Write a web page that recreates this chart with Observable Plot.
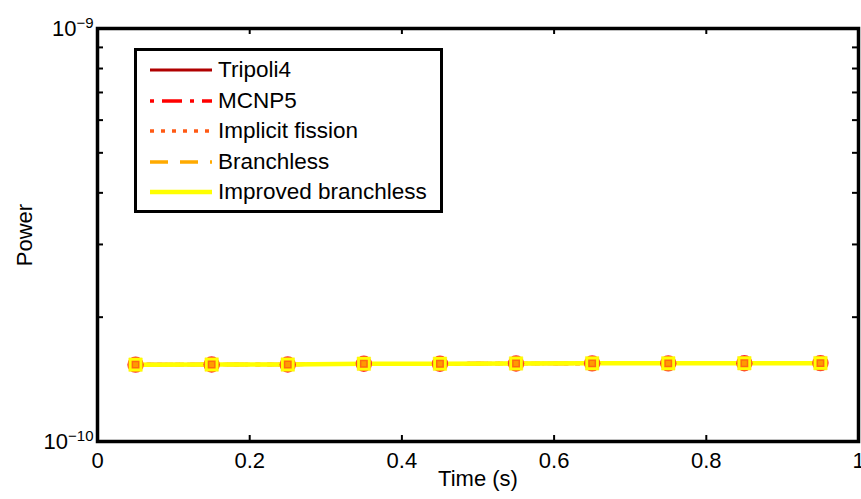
<!DOCTYPE html>
<html>
<head>
<meta charset="utf-8">
<script src="https://cdn.jsdelivr.net/npm/d3@7"></script>
<script src="https://cdn.jsdelivr.net/npm/@observablehq/plot@0.6"></script>
<style>
  html, body { margin: 0; padding: 0; background: #fff; }
  #wrap { position: relative; width: 861px; height: 499px; font-family: "Liberation Sans", Arial, sans-serif; }
  #legend { position: absolute; left: 134px; top: 48px; width: 303px; height: 159px; border: 3px solid #000; background: #fff; }
  #legend .row { position: absolute; left: 0; height: 30px; display: flex; align-items: center; }
  #legend svg { display: block; margin-left: 13px; }
  #legend span { margin-left: 6px; font-size: 22.5px; color: #000; white-space: nowrap; }
</style>
</head>
<body>
<div id="wrap"></div>
<script>
// Data
const time = [0.05, 0.15, 0.25, 0.35, 0.45, 0.55, 0.65, 0.75, 0.85, 0.95];
const tripoli4   = [1.535e-10, 1.536e-10, 1.536e-10, 1.543e-10, 1.543e-10, 1.545e-10, 1.546e-10, 1.546e-10, 1.547e-10, 1.548e-10];
const mcnp5      = [1.535e-10, 1.536e-10, 1.536e-10, 1.543e-10, 1.543e-10, 1.545e-10, 1.546e-10, 1.546e-10, 1.547e-10, 1.548e-10];
const implicitFission = [1.535e-10, 1.536e-10, 1.536e-10, 1.543e-10, 1.543e-10, 1.545e-10, 1.546e-10, 1.546e-10, 1.547e-10, 1.548e-10];
const branchless = [1.535e-10, 1.536e-10, 1.536e-10, 1.543e-10, 1.543e-10, 1.545e-10, 1.546e-10, 1.546e-10, 1.547e-10, 1.548e-10];
const improvedBranchless = [1.535e-10, 1.536e-10, 1.536e-10, 1.543e-10, 1.543e-10, 1.545e-10, 1.546e-10, 1.546e-10, 1.547e-10, 1.548e-10];

const xTicks = [0, 0.2, 0.4, 0.6, 0.8, 1];
const yMajorTicks = [1e-10, 1e-9];
const yMinorTicks = [2e-10, 3e-10, 4e-10, 5e-10, 6e-10, 7e-10, 8e-10, 9e-10];
const yTickExponents = ["\u221210", "\u22129"];

const seriesNames = ["Tripoli4", "MCNP5", "Implicit fission", "Branchless", "Improved branchless"];
const seriesValues = [tripoli4, mcnp5, implicitFission, branchless, improvedBranchless];
const seriesStyles = [
  {stroke: "#b00000", strokeWidth: 3, dash: null},
  {stroke: "#ff0000", strokeWidth: 3.5, dash: "4,8,20,8"},
  {stroke: "#ff5a14", strokeWidth: 3.5, dash: "4,7"},
  {stroke: "#ffaa00", strokeWidth: 3.5, dash: "18,12"},
  {stroke: "#ffff00", strokeWidth: 4.5, dash: null}
];

const table = (vals) => time.map((t, i) => ({t, v: vals[i]}));

const W = 861, H = 499, mL = 97, mR = 3, mT = 28, mB = 58;
const innerH = H - mT - mB, innerW = W - mL - mR;
const tickLen = 6;
const FS = 22;

const lineMarks = seriesValues.map((vals, i) => Plot.line(table(vals), {
  x: "t", y: "v",
  stroke: seriesStyles[i].stroke,
  strokeWidth: seriesStyles[i].strokeWidth,
  strokeDasharray: seriesStyles[i].dash
}));

const chart = Plot.plot({
  width: W, height: H,
  marginLeft: mL, marginRight: mR, marginTop: mT, marginBottom: mB,
  style: {fontFamily: "Liberation Sans, Arial, sans-serif", fontSize: FS + "px", color: "#000", background: "#fff", overflow: "visible"},
  x: {domain: [0, 1]},
  y: {type: "log", domain: [1e-10, 1e-9]},
  marks: [
    ...lineMarks,
    Plot.dot(table(mcnp5), {x: "t", y: "v", r: 8.2, fill: "#ff2a2a", stroke: null}),
    Plot.dot(table(improvedBranchless), {x: "t", y: "v", symbol: "square", r: 7.6, fill: "#ffff00", stroke: "#fff200", strokeWidth: 0.5}),
    Plot.dot(table(implicitFission), {x: "t", y: "v", symbol: "square", r: 3.6, fill: "#ff9a00", stroke: "#ff6a10", strokeWidth: 1.5}),
    Plot.tickX(xTicks, {x: d => d, insetTop: innerH - tickLen, stroke: "#000", strokeWidth: 2}),
    Plot.tickX(xTicks, {x: d => d, insetBottom: innerH - tickLen, stroke: "#000", strokeWidth: 2}),
    Plot.tickY(yMinorTicks, {y: d => d, insetRight: innerW - tickLen, stroke: "#000", strokeWidth: 2}),
    Plot.tickY(yMinorTicks, {y: d => d, insetLeft: innerW - tickLen, stroke: "#000", strokeWidth: 2}),
    Plot.axisX({ticks: xTicks, tickSize: 0, tickPadding: 11, tickFormat: d => String(d), fontSize: FS,
      label: "Time (s)", labelAnchor: "center", labelArrow: "none", labelOffset: 44}),
    Plot.axisY({ticks: yMajorTicks, tickSize: 0, tickPadding: 4, tickFormat: d => "10", fontSize: FS,
      label: "Power", labelAnchor: "center", labelArrow: "none", labelOffset: 81}),
    Plot.frame({stroke: "#000", strokeWidth: 3.5})
  ]
});

chart.querySelectorAll("text").forEach(t => {
  t.style.setProperty("font-size", FS + "px", "important");
});

// superscript exponents on y tick labels
const yTicksText = chart.querySelectorAll('g[aria-label="y-axis tick label"] text');
yTicksText.forEach((t, i) => {
  const e = document.createElementNS("http://www.w3.org/2000/svg", "tspan");
  e.setAttribute("dy", "-0.5em");
  e.style.setProperty("font-size", "15px", "important");
  e.textContent = yTickExponents[i];
  t.appendChild(e);
});

const wrap = document.getElementById("wrap");
wrap.appendChild(chart);

// legend
const legend = document.createElement("div");
legend.id = "legend";
seriesNames.forEach((name, i) => {
  const row = document.createElement("div");
  row.className = "row";
  row.style.top = (4 + i * 30.5) + "px";
  const s = seriesStyles[i];
  row.innerHTML = `<svg width="62" height="12"><line x1="0" x2="62" y1="6" y2="6" stroke="${s.stroke}" stroke-width="${s.strokeWidth}" ${s.dash ? `stroke-dasharray="${s.dash}"` : ""}/></svg><span>${name}</span>`;
  legend.appendChild(row);
});
wrap.appendChild(legend);
</script>
</body>
</html>
